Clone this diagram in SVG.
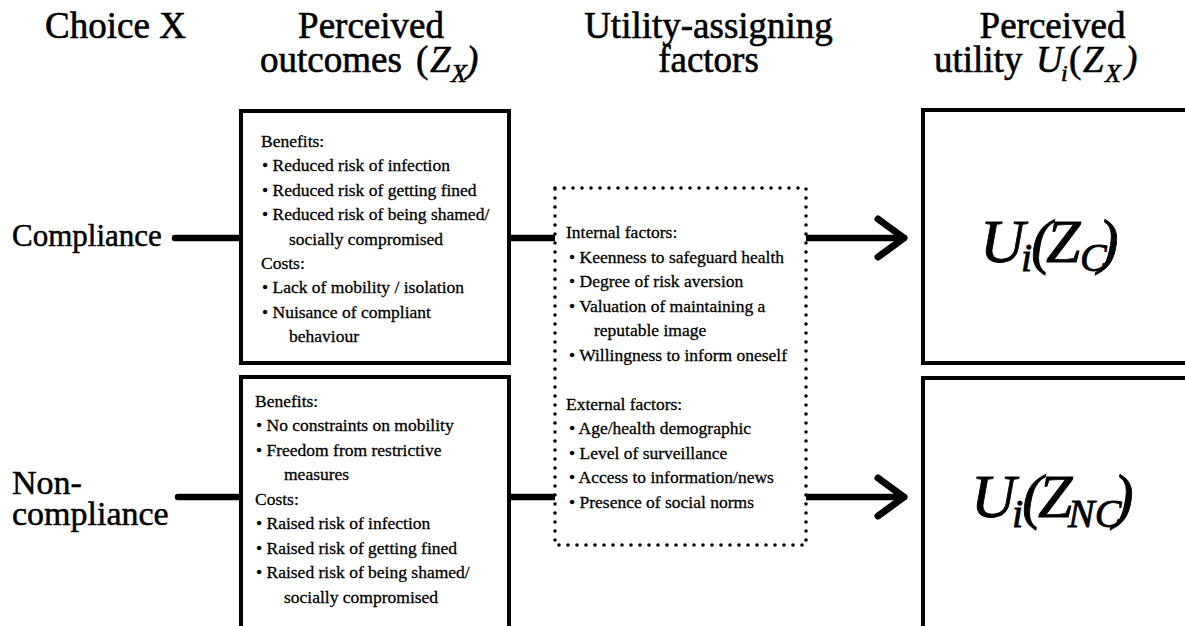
<svg xmlns="http://www.w3.org/2000/svg" width="1185" height="626" viewBox="0 0 1185 626" font-family="'Liberation Serif', 'DejaVu Serif', serif">
<defs>
<style>
text{font-family:'Liberation Serif','DejaVu Serif',serif;fill:#000;stroke:#000}
.hdr{font-size:37px;stroke-width:0.6}
.lbl{font-size:31px;stroke-width:0.5}
.lbl2{font-size:34px;stroke-width:0.5}
.txt{font-size:17.5px;stroke-width:0.3}
.it{font-style:italic}
.math{font-style:italic;font-size:62px;stroke-width:0.8}
.box{fill:#fff;stroke:#000;stroke-width:4}
.dot{fill:#fff;stroke:#000;stroke-width:3.6;stroke-dasharray:0 9;stroke-linecap:round}
.conn{fill:none;stroke:#000;stroke-width:6.5;stroke-linecap:round}
</style>
<marker id="chev" markerUnits="userSpaceOnUse" markerWidth="40" markerHeight="50" refX="30" refY="25" orient="auto" overflow="visible">
<path d="M4,6 L30,25 L4,44" fill="none" stroke="#000" stroke-width="7" stroke-linecap="round" stroke-linejoin="round"/>
</marker>
</defs>
<rect width="1185" height="626" fill="#fff"/>

<g id="headers">
<text class="hdr" x="115.5" y="38" text-anchor="middle">Choice X</text>
<text class="hdr" x="371" y="38" text-anchor="middle">Perceived</text>
<text class="hdr" y="72"><tspan x="260">outcomes</tspan><tspan x="416">(</tspan><tspan class="it" x="430">Z</tspan><tspan class="it" x="451" y="82" font-size="26">X</tspan><tspan class="it" x="466" y="72">)</tspan></text>
<text class="hdr" x="708.5" y="38" text-anchor="middle">Utility-assigning</text>
<text class="hdr" x="708.5" y="72" text-anchor="middle">factors</text>
<text class="hdr" x="1052.5" y="38" text-anchor="middle">Perceived</text>
<text class="hdr" y="72"><tspan x="934">utility</tspan><tspan class="it" x="1036">U</tspan><tspan class="it" x="1061" y="81" font-size="24">i</tspan><tspan x="1069" y="72">(</tspan><tspan class="it" x="1083">Z</tspan><tspan class="it" x="1105" y="82" font-size="26">X</tspan><tspan class="it" x="1125" y="72">)</tspan></text>
</g>

<g id="connectors">
<line class="conn" x1="175" y1="238" x2="243" y2="238"/>
<line class="conn" x1="178" y1="497" x2="243" y2="497"/>
<line class="conn" x1="508" y1="238" x2="556" y2="238"/>
<line class="conn" x1="508" y1="497" x2="556" y2="497"/>
<line class="conn" x1="806" y1="238" x2="904" y2="238" marker-end="url(#chev)"/>
<line class="conn" x1="806" y1="497" x2="904" y2="497" marker-end="url(#chev)"/>
</g>

<g id="choice-compliance">
<text class="lbl" x="12" y="246">Compliance</text>
</g>
<g id="choice-noncompliance">
<text class="lbl2" x="12" y="494">Non-</text>
<text class="lbl2" x="12" y="525">compliance</text>
</g>

<g id="outcomes-compliance">
<rect class="box" x="241" y="111" width="268" height="252"/>
<text class="txt" x="261" y="147">Benefits:</text>
<text class="txt" x="262" y="171.4">• Reduced risk of infection</text>
<text class="txt" x="262" y="195.8">• Reduced risk of getting fined</text>
<text class="txt" x="262" y="220.2">• Reduced risk of being shamed/</text>
<text class="txt" x="289" y="244.6">socially compromised</text>
<text class="txt" x="261" y="269">Costs:</text>
<text class="txt" x="262" y="293.4">• Lack of mobility / isolation</text>
<text class="txt" x="262" y="317.8">• Nuisance of compliant</text>
<text class="txt" x="289" y="342.2">behaviour</text>
</g>

<g id="outcomes-noncompliance">
<rect class="box" x="241" y="377" width="268" height="300"/>
<text class="txt" x="255" y="406.5">Benefits:</text>
<text class="txt" x="256" y="431">• No constraints on mobility</text>
<text class="txt" x="256" y="455.5">• Freedom from restrictive</text>
<text class="txt" x="284" y="480">measures</text>
<text class="txt" x="255" y="504.5">Costs:</text>
<text class="txt" x="256" y="529">• Raised risk of infection</text>
<text class="txt" x="256" y="553.5">• Raised risk of getting fined</text>
<text class="txt" x="256" y="578">• Raised risk of being shamed/</text>
<text class="txt" x="284" y="602.5">socially compromised</text>
</g>

<g id="utility-factors">
<rect class="dot" x="555" y="188" width="251" height="357"/>
<text class="txt" x="566" y="238">Internal factors:</text>
<text class="txt" x="569" y="262.5">• Keenness to safeguard health</text>
<text class="txt" x="569" y="287">• Degree of risk aversion</text>
<text class="txt" x="569" y="311.5">• Valuation of maintaining a</text>
<text class="txt" x="594" y="336">reputable image</text>
<text class="txt" x="569" y="360.5">• Willingness to inform oneself</text>
<text class="txt" x="566" y="409.5">External factors:</text>
<text class="txt" x="569" y="434">• Age/health demographic</text>
<text class="txt" x="569" y="458.5">• Level of surveillance</text>
<text class="txt" x="569" y="483">• Access to information/news</text>
<text class="txt" x="569" y="507.5">• Presence of social norms</text>
</g>

<g id="utility-compliance">
<rect class="box" x="923" y="110" width="300" height="253"/>
<text class="math" y="262"><tspan x="980">U</tspan><tspan x="1021" y="271" font-size="40">i</tspan><tspan x="1031" y="262">(</tspan><tspan x="1046">Z</tspan><tspan x="1080" y="271" font-size="40">C</tspan><tspan x="1098" y="262">)</tspan></text>
</g>

<g id="utility-noncompliance">
<rect class="box" x="923" y="378" width="300" height="300"/>
<text class="math" y="517"><tspan x="971">U</tspan><tspan x="1012" y="527" font-size="40">i</tspan><tspan x="1022" y="517">(</tspan><tspan x="1038">Z</tspan><tspan x="1068" y="527" font-size="40">NC</tspan><tspan x="1113" y="517">)</tspan></text>
</g>
</svg>
